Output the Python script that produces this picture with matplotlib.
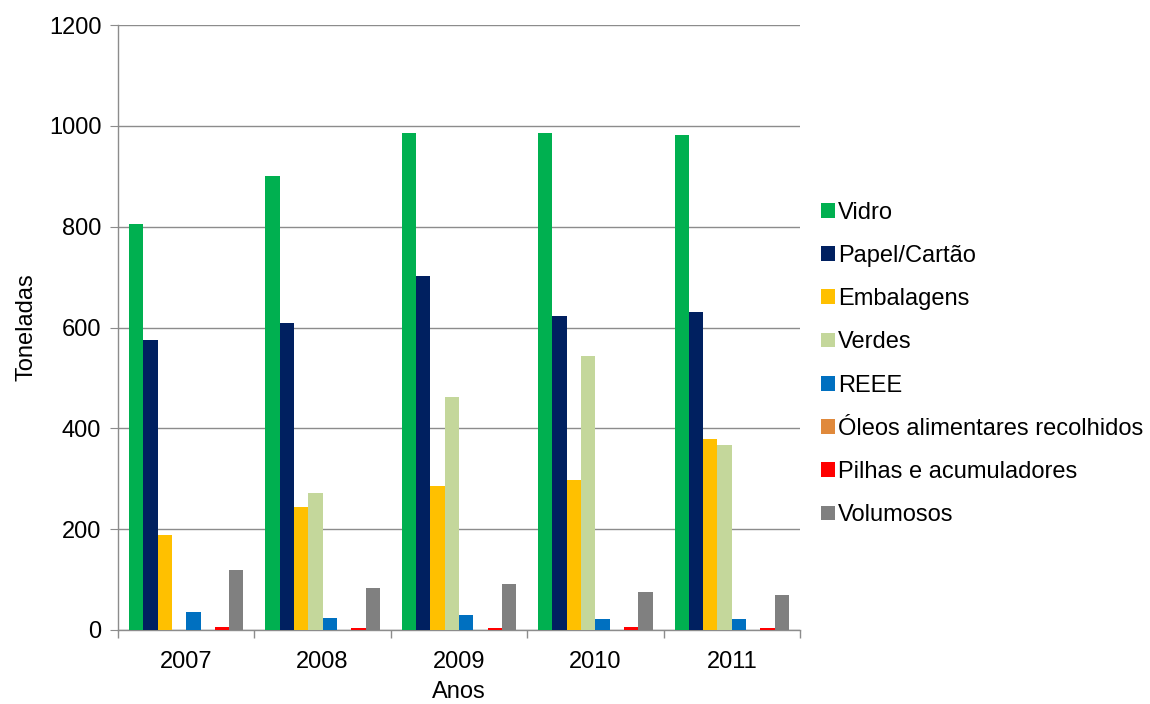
import matplotlib
matplotlib.use("Agg")
import matplotlib.pyplot as plt
import numpy as np

years = ["2007", "2008", "2009", "2010", "2011"]
series_names = ["Vidro", "Papel/Cartão", "Embalagens", "Verdes", "REEE",
                "Óleos alimentares recolhidos", "Pilhas e acumuladores", "Volumosos"]
vidro = [805, 901, 986, 985, 982]
papel = [575, 609, 702, 623, 631]
embalagens = [188, 244, 286, 298, 379]
verdes = [0, 272, 462, 544, 367]
reee = [36, 24, 30, 22, 22]
oleos = [0, 0, 0, 0, 0]
pilhas = [5, 4, 3, 5, 3]
volumosos = [120, 83, 91, 75, 69]
colors = ["#00B050", "#002060", "#FFC000", "#C4D79B", "#0070C0",
          "#E0893B", "#FF0000", "#808080"]

data = [vidro, papel, embalagens, verdes, reee, oleos, pilhas, volumosos]

plt.rcParams['font.family'] = ['Liberation Sans', 'DejaVu Sans']
FS = 17
fig = plt.figure(figsize=(11.5, 7.04), dpi=100)
ax = fig.add_axes([118/1150, 1-630/704, (800-118)/1150, (630-25)/704])

n = len(data)
bw = 0.84 / n
x = np.arange(len(years))
for i, (vals, c, name) in enumerate(zip(data, colors, series_names)):
    ax.bar(x - 0.42 + bw*(i+0.5), vals, width=bw, color=c, label=name, zorder=3)

ax.set_xlim(-0.5, len(years)-0.5)
ax.set_ylim(0, 1200)
ax.set_yticks(np.arange(0, 1201, 200))
ax.yaxis.grid(True, color="#8c8c8c", linewidth=1, zorder=0)
ax.set_xticks(x)
ax.set_xticklabels(years)
ax.set_xticks(np.arange(-0.5, len(years), 1), minor=True)
ax.tick_params(axis='x', which='major', length=0, labelsize=FS, pad=15)
ax.tick_params(axis='x', which='minor', length=6, color="#8c8c8c", width=1)
ax.tick_params(axis='y', length=6, color="#8c8c8c", labelsize=FS, pad=6)
for s in ["top", "right"]:
    ax.spines[s].set_visible(False)
for s in ["left", "bottom"]:
    ax.spines[s].set_color("#8c8c8c")
    ax.spines[s].set_linewidth(1)
ax.set_ylabel("Toneladas", fontsize=FS, labelpad=8)
ax.set_xlabel("Anos", fontsize=FS, labelpad=6)

ax.legend(loc="center left", bbox_to_anchor=(821/1150, 1-364/704),
          bbox_transform=fig.transFigure, frameon=False,
          fontsize=FS, handlelength=0.58, handleheight=0.58, handletextpad=0.15,
          labelspacing=0.9, borderaxespad=0, borderpad=0)

fig.savefig("out.png", dpi=100)
